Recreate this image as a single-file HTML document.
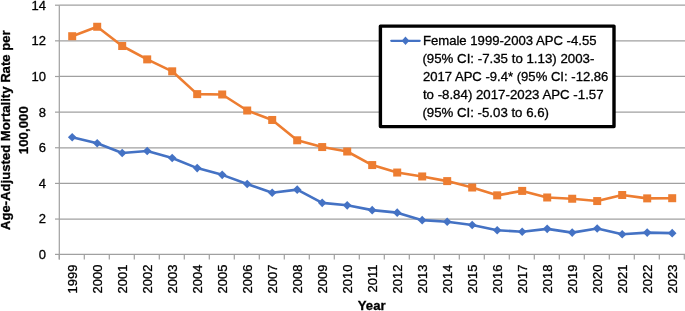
<!DOCTYPE html>
<html><head><meta charset="utf-8">
<style>
html,body{margin:0;padding:0;background:#fff;}
body{width:685px;height:311px;overflow:hidden;}
svg{display:block;will-change:transform;}
text{-webkit-font-smoothing:antialiased;}
text{font-family:"Liberation Sans",sans-serif;fill:#000;stroke:#000;stroke-width:0.3px;}
.t{font-size:13px;}
.l{font-size:12.6px;}
.b{font-size:13.5px;font-weight:bold;}
</style></head><body>
<svg width="685" height="311" viewBox="0 0 685 311">
<rect width="685" height="311" fill="#fff"/>
<line x1="59.3" y1="219.06" x2="685" y2="219.06" stroke="#a0a0a0" stroke-width="1.25"/>
<line x1="59.3" y1="183.41" x2="685" y2="183.41" stroke="#a0a0a0" stroke-width="1.25"/>
<line x1="59.3" y1="147.77" x2="685" y2="147.77" stroke="#a0a0a0" stroke-width="1.25"/>
<line x1="59.3" y1="112.13" x2="685" y2="112.13" stroke="#a0a0a0" stroke-width="1.25"/>
<line x1="59.3" y1="76.49" x2="685" y2="76.49" stroke="#a0a0a0" stroke-width="1.25"/>
<line x1="59.3" y1="40.84" x2="685" y2="40.84" stroke="#a0a0a0" stroke-width="1.25"/>
<line x1="59.3" y1="5.20" x2="685" y2="5.20" stroke="#a0a0a0" stroke-width="1.25"/>
<line x1="55" y1="254.40" x2="59.3" y2="254.40" stroke="#a0a0a0" stroke-width="1.2"/>
<line x1="55" y1="219.06" x2="59.3" y2="219.06" stroke="#a0a0a0" stroke-width="1.2"/>
<line x1="55" y1="183.41" x2="59.3" y2="183.41" stroke="#a0a0a0" stroke-width="1.2"/>
<line x1="55" y1="147.77" x2="59.3" y2="147.77" stroke="#a0a0a0" stroke-width="1.2"/>
<line x1="55" y1="112.13" x2="59.3" y2="112.13" stroke="#a0a0a0" stroke-width="1.2"/>
<line x1="55" y1="76.49" x2="59.3" y2="76.49" stroke="#a0a0a0" stroke-width="1.2"/>
<line x1="55" y1="40.84" x2="59.3" y2="40.84" stroke="#a0a0a0" stroke-width="1.2"/>
<line x1="55" y1="5.20" x2="59.3" y2="5.20" stroke="#a0a0a0" stroke-width="1.2"/>
<line x1="59.3" y1="254.4" x2="685" y2="254.4" stroke="#a0a0a0" stroke-width="1.2"/>
<line x1="59.30" y1="254.4" x2="59.30" y2="259.5" stroke="#a0a0a0" stroke-width="1.2"/>
<line x1="84.30" y1="254.4" x2="84.30" y2="259.5" stroke="#a0a0a0" stroke-width="1.2"/>
<line x1="109.30" y1="254.4" x2="109.30" y2="259.5" stroke="#a0a0a0" stroke-width="1.2"/>
<line x1="134.30" y1="254.4" x2="134.30" y2="259.5" stroke="#a0a0a0" stroke-width="1.2"/>
<line x1="159.30" y1="254.4" x2="159.30" y2="259.5" stroke="#a0a0a0" stroke-width="1.2"/>
<line x1="184.30" y1="254.4" x2="184.30" y2="259.5" stroke="#a0a0a0" stroke-width="1.2"/>
<line x1="209.30" y1="254.4" x2="209.30" y2="259.5" stroke="#a0a0a0" stroke-width="1.2"/>
<line x1="234.30" y1="254.4" x2="234.30" y2="259.5" stroke="#a0a0a0" stroke-width="1.2"/>
<line x1="259.30" y1="254.4" x2="259.30" y2="259.5" stroke="#a0a0a0" stroke-width="1.2"/>
<line x1="284.30" y1="254.4" x2="284.30" y2="259.5" stroke="#a0a0a0" stroke-width="1.2"/>
<line x1="309.30" y1="254.4" x2="309.30" y2="259.5" stroke="#a0a0a0" stroke-width="1.2"/>
<line x1="334.30" y1="254.4" x2="334.30" y2="259.5" stroke="#a0a0a0" stroke-width="1.2"/>
<line x1="359.30" y1="254.4" x2="359.30" y2="259.5" stroke="#a0a0a0" stroke-width="1.2"/>
<line x1="384.30" y1="254.4" x2="384.30" y2="259.5" stroke="#a0a0a0" stroke-width="1.2"/>
<line x1="409.30" y1="254.4" x2="409.30" y2="259.5" stroke="#a0a0a0" stroke-width="1.2"/>
<line x1="434.30" y1="254.4" x2="434.30" y2="259.5" stroke="#a0a0a0" stroke-width="1.2"/>
<line x1="459.30" y1="254.4" x2="459.30" y2="259.5" stroke="#a0a0a0" stroke-width="1.2"/>
<line x1="484.30" y1="254.4" x2="484.30" y2="259.5" stroke="#a0a0a0" stroke-width="1.2"/>
<line x1="509.30" y1="254.4" x2="509.30" y2="259.5" stroke="#a0a0a0" stroke-width="1.2"/>
<line x1="534.30" y1="254.4" x2="534.30" y2="259.5" stroke="#a0a0a0" stroke-width="1.2"/>
<line x1="559.30" y1="254.4" x2="559.30" y2="259.5" stroke="#a0a0a0" stroke-width="1.2"/>
<line x1="584.30" y1="254.4" x2="584.30" y2="259.5" stroke="#a0a0a0" stroke-width="1.2"/>
<line x1="609.30" y1="254.4" x2="609.30" y2="259.5" stroke="#a0a0a0" stroke-width="1.2"/>
<line x1="634.30" y1="254.4" x2="634.30" y2="259.5" stroke="#a0a0a0" stroke-width="1.2"/>
<line x1="659.30" y1="254.4" x2="659.30" y2="259.5" stroke="#a0a0a0" stroke-width="1.2"/>
<line x1="684.30" y1="254.4" x2="684.30" y2="259.5" stroke="#a0a0a0" stroke-width="1.2"/>
<line x1="59.3" y1="5.2" x2="59.3" y2="259.5" stroke="#a0a0a0" stroke-width="1.2"/>
<text x="46.0" y="259.10" text-anchor="end" class="t">0</text>
<text x="46.0" y="223.46" text-anchor="end" class="t">2</text>
<text x="46.0" y="187.81" text-anchor="end" class="t">4</text>
<text x="46.0" y="152.17" text-anchor="end" class="t">6</text>
<text x="46.0" y="116.53" text-anchor="end" class="t">8</text>
<text x="46.0" y="80.89" text-anchor="end" class="t">10</text>
<text x="46.0" y="45.24" text-anchor="end" class="t">12</text>
<text x="46.0" y="9.60" text-anchor="end" class="t">14</text>
<text transform="translate(77.40,264.6) rotate(-90)" text-anchor="end" class="t">1999</text>
<text transform="translate(102.40,264.6) rotate(-90)" text-anchor="end" class="t">2000</text>
<text transform="translate(127.40,264.6) rotate(-90)" text-anchor="end" class="t">2001</text>
<text transform="translate(152.40,264.6) rotate(-90)" text-anchor="end" class="t">2002</text>
<text transform="translate(177.40,264.6) rotate(-90)" text-anchor="end" class="t">2003</text>
<text transform="translate(202.40,264.6) rotate(-90)" text-anchor="end" class="t">2004</text>
<text transform="translate(227.40,264.6) rotate(-90)" text-anchor="end" class="t">2005</text>
<text transform="translate(252.40,264.6) rotate(-90)" text-anchor="end" class="t">2006</text>
<text transform="translate(277.40,264.6) rotate(-90)" text-anchor="end" class="t">2007</text>
<text transform="translate(302.40,264.6) rotate(-90)" text-anchor="end" class="t">2008</text>
<text transform="translate(327.40,264.6) rotate(-90)" text-anchor="end" class="t">2009</text>
<text transform="translate(352.40,264.6) rotate(-90)" text-anchor="end" class="t">2010</text>
<text transform="translate(377.40,264.6) rotate(-90)" text-anchor="end" class="t">2011</text>
<text transform="translate(402.40,264.6) rotate(-90)" text-anchor="end" class="t">2012</text>
<text transform="translate(427.40,264.6) rotate(-90)" text-anchor="end" class="t">2013</text>
<text transform="translate(452.40,264.6) rotate(-90)" text-anchor="end" class="t">2014</text>
<text transform="translate(477.40,264.6) rotate(-90)" text-anchor="end" class="t">2015</text>
<text transform="translate(502.40,264.6) rotate(-90)" text-anchor="end" class="t">2016</text>
<text transform="translate(527.40,264.6) rotate(-90)" text-anchor="end" class="t">2017</text>
<text transform="translate(552.40,264.6) rotate(-90)" text-anchor="end" class="t">2018</text>
<text transform="translate(577.40,264.6) rotate(-90)" text-anchor="end" class="t">2019</text>
<text transform="translate(602.40,264.6) rotate(-90)" text-anchor="end" class="t">2020</text>
<text transform="translate(627.40,264.6) rotate(-90)" text-anchor="end" class="t">2021</text>
<text transform="translate(652.40,264.6) rotate(-90)" text-anchor="end" class="t">2022</text>
<text transform="translate(677.40,264.6) rotate(-90)" text-anchor="end" class="t">2023</text>
<polyline points="72.20,36.21 97.20,26.76 122.20,46.01 147.20,59.38 172.20,71.32 197.20,94.13 222.20,94.49 247.20,110.52 272.20,119.97 297.20,140.29 322.20,147.06 347.20,151.51 372.20,165.06 397.20,172.54 422.20,176.46 447.20,181.10 472.20,187.51 497.20,195.35 522.20,190.90 547.20,197.49 572.20,198.74 597.20,201.06 622.20,195.00 647.20,198.38 672.20,198.21" fill="none" stroke="#ED7D31" stroke-width="2.6" stroke-linejoin="round"/>
<rect x="68.20" y="32.21" width="8" height="8" fill="#ED7D31"/>
<rect x="93.20" y="22.76" width="8" height="8" fill="#ED7D31"/>
<rect x="118.20" y="42.01" width="8" height="8" fill="#ED7D31"/>
<rect x="143.20" y="55.38" width="8" height="8" fill="#ED7D31"/>
<rect x="168.20" y="67.32" width="8" height="8" fill="#ED7D31"/>
<rect x="193.20" y="90.13" width="8" height="8" fill="#ED7D31"/>
<rect x="218.20" y="90.49" width="8" height="8" fill="#ED7D31"/>
<rect x="243.20" y="106.52" width="8" height="8" fill="#ED7D31"/>
<rect x="268.20" y="115.97" width="8" height="8" fill="#ED7D31"/>
<rect x="293.20" y="136.29" width="8" height="8" fill="#ED7D31"/>
<rect x="318.20" y="143.06" width="8" height="8" fill="#ED7D31"/>
<rect x="343.20" y="147.51" width="8" height="8" fill="#ED7D31"/>
<rect x="368.20" y="161.06" width="8" height="8" fill="#ED7D31"/>
<rect x="393.20" y="168.54" width="8" height="8" fill="#ED7D31"/>
<rect x="418.20" y="172.46" width="8" height="8" fill="#ED7D31"/>
<rect x="443.20" y="177.10" width="8" height="8" fill="#ED7D31"/>
<rect x="468.20" y="183.51" width="8" height="8" fill="#ED7D31"/>
<rect x="493.20" y="191.35" width="8" height="8" fill="#ED7D31"/>
<rect x="518.20" y="186.90" width="8" height="8" fill="#ED7D31"/>
<rect x="543.20" y="193.49" width="8" height="8" fill="#ED7D31"/>
<rect x="568.20" y="194.74" width="8" height="8" fill="#ED7D31"/>
<rect x="593.20" y="197.06" width="8" height="8" fill="#ED7D31"/>
<rect x="618.20" y="191.00" width="8" height="8" fill="#ED7D31"/>
<rect x="643.20" y="194.38" width="8" height="8" fill="#ED7D31"/>
<rect x="668.20" y="194.21" width="8" height="8" fill="#ED7D31"/>
<polyline points="72.20,137.26 97.20,143.32 122.20,152.94 147.20,150.98 172.20,157.93 197.20,168.09 222.20,174.86 247.20,183.95 272.20,192.68 297.20,189.65 322.20,202.84 347.20,205.33 372.20,210.15 397.20,212.64 422.20,220.13 447.20,221.73 472.20,224.94 497.20,230.28 522.20,231.71 547.20,228.86 572.20,232.60 597.20,228.50 622.20,234.21 647.20,232.60 672.20,233.14" fill="none" stroke="#4472C4" stroke-width="2.6" stroke-linejoin="round"/>
<polygon points="72.20,132.96 76.50,137.26 72.20,141.56 67.90,137.26" fill="#4472C4"/>
<polygon points="97.20,139.02 101.50,143.32 97.20,147.62 92.90,143.32" fill="#4472C4"/>
<polygon points="122.20,148.64 126.50,152.94 122.20,157.24 117.90,152.94" fill="#4472C4"/>
<polygon points="147.20,146.68 151.50,150.98 147.20,155.28 142.90,150.98" fill="#4472C4"/>
<polygon points="172.20,153.63 176.50,157.93 172.20,162.23 167.90,157.93" fill="#4472C4"/>
<polygon points="197.20,163.79 201.50,168.09 197.20,172.39 192.90,168.09" fill="#4472C4"/>
<polygon points="222.20,170.56 226.50,174.86 222.20,179.16 217.90,174.86" fill="#4472C4"/>
<polygon points="247.20,179.65 251.50,183.95 247.20,188.25 242.90,183.95" fill="#4472C4"/>
<polygon points="272.20,188.38 276.50,192.68 272.20,196.98 267.90,192.68" fill="#4472C4"/>
<polygon points="297.20,185.35 301.50,189.65 297.20,193.95 292.90,189.65" fill="#4472C4"/>
<polygon points="322.20,198.54 326.50,202.84 322.20,207.14 317.90,202.84" fill="#4472C4"/>
<polygon points="347.20,201.03 351.50,205.33 347.20,209.63 342.90,205.33" fill="#4472C4"/>
<polygon points="372.20,205.85 376.50,210.15 372.20,214.45 367.90,210.15" fill="#4472C4"/>
<polygon points="397.20,208.34 401.50,212.64 397.20,216.94 392.90,212.64" fill="#4472C4"/>
<polygon points="422.20,215.83 426.50,220.13 422.20,224.43 417.90,220.13" fill="#4472C4"/>
<polygon points="447.20,217.43 451.50,221.73 447.20,226.03 442.90,221.73" fill="#4472C4"/>
<polygon points="472.20,220.64 476.50,224.94 472.20,229.24 467.90,224.94" fill="#4472C4"/>
<polygon points="497.20,225.98 501.50,230.28 497.20,234.58 492.90,230.28" fill="#4472C4"/>
<polygon points="522.20,227.41 526.50,231.71 522.20,236.01 517.90,231.71" fill="#4472C4"/>
<polygon points="547.20,224.56 551.50,228.86 547.20,233.16 542.90,228.86" fill="#4472C4"/>
<polygon points="572.20,228.30 576.50,232.60 572.20,236.90 567.90,232.60" fill="#4472C4"/>
<polygon points="597.20,224.20 601.50,228.50 597.20,232.80 592.90,228.50" fill="#4472C4"/>
<polygon points="622.20,229.91 626.50,234.21 622.20,238.51 617.90,234.21" fill="#4472C4"/>
<polygon points="647.20,228.30 651.50,232.60 647.20,236.90 642.90,232.60" fill="#4472C4"/>
<polygon points="672.20,228.84 676.50,233.14 672.20,237.44 667.90,233.14" fill="#4472C4"/>
<text transform="translate(10.2,230.0) rotate(-90)" class="b" textLength="199.6" lengthAdjust="spacingAndGlyphs">Age-Adjusted Mortality Rate per</text>
<text transform="translate(28.4,154.2) rotate(-90)" class="b" textLength="48" lengthAdjust="spacingAndGlyphs">100,000</text>
<text x="357.8" y="310" class="b" textLength="27.8" lengthAdjust="spacingAndGlyphs">Year</text>
<rect x="380.4" y="26.1" width="233.6" height="100.5" fill="#fff" stroke="#000" stroke-width="3.4" stroke-linejoin="round"/>
<line x1="391.3" y1="40.8" x2="419.7" y2="40.8" stroke="#4472C4" stroke-width="2.3" stroke-linecap="round"/>
<polygon points="405.5,36.6 409.3,40.8 405.5,45.0 401.7,40.8" fill="#4472C4"/>
<text x="422.9" y="44.6" class="l" textLength="173.6" lengthAdjust="spacingAndGlyphs">Female 1999-2003 APC -4.55</text>
<text x="422.4" y="62.6" class="l" textLength="172.0" lengthAdjust="spacingAndGlyphs">(95% CI: -7.35 to 1.13) 2003-</text>
<text x="422.9" y="80.6" class="l" textLength="185.5" lengthAdjust="spacingAndGlyphs">2017 APC -9.4* (95% CI: -12.86</text>
<text x="422.9" y="98.6" class="l" textLength="180.7" lengthAdjust="spacingAndGlyphs">to -8.84) 2017-2023 APC -1.57</text>
<text x="422.4" y="116.6" class="l" textLength="126.6" lengthAdjust="spacingAndGlyphs">(95% CI: -5.03 to 6.6)</text>
</svg>
</body></html>
